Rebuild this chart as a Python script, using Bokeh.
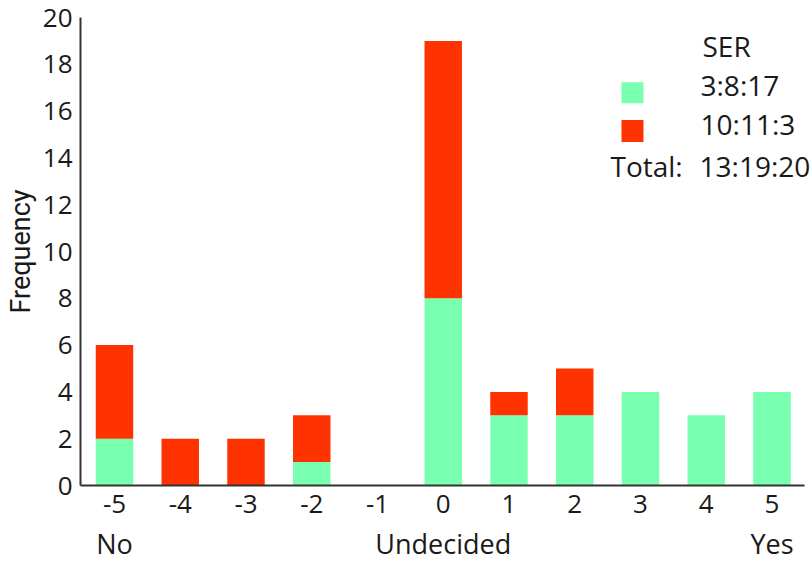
from bokeh.plotting import figure
from bokeh.models import Range1d, LinearAxis, FixedTicker, Label, BoxAnnotation
from bokeh.embed import file_html
from bokeh.resources import INLINE

# ---- data ----
scores = [-5, -4, -3, -2, -1, 0, 1, 2, 3, 4, 5]
ser_green = [2, 0, 0, 1, 0, 8, 3, 3, 4, 3, 4]
ser_red = [4, 2, 2, 2, 0, 11, 1, 2, 0, 0, 0]
y_ticks = [0, 2, 4, 6, 8, 10, 12, 14, 16, 18, 20]
group_labels = {-5: "No", 0: "Undecided", 5: "Yes"}
legend_title = "SER"
y_title = "Frequency"

GREEN = "#78FFB0"
RED = "#FF3300"
FONT = "Open Sans"
FS = "26px"
FS_LEG = "28px"
TXT = "#1a1a1a"


def split(vals):
    no = sum(v for s, v in zip(scores, vals) if s < 0)
    und = sum(v for s, v in zip(scores, vals) if s == 0)
    yes = sum(v for s, v in zip(scores, vals) if s > 0)
    return no, und, yes


g = split(ser_green)
r = split(ser_red)
t = tuple(a + b for a, b in zip(g, r))
fmt = lambda tr: ":".join(str(v) for v in tr)

W, H = 812, 564
FL, FR, FT, FB = 80, 812, 17, 487  # frame edges in pixels
UNIT = 65.75                         # pixels per score step
X0 = -5.517
X1 = X0 + (FR - FL) / UNIT
X_AXIS_END = X0 + (804 - FL) / UNIT
Y0, Y1 = 0, 20

p = figure(width=W, height=H, output_backend="svg", toolbar_location=None,
           x_range=Range1d(X0, X1), y_range=Range1d(Y0, Y1),
           min_border_left=FL, min_border_right=W - FR, min_border_top=FT,
           min_border_bottom=H - FB)
p.outline_line_color = None
p.grid.visible = False
p.background_fill_color = "white"

src = dict(score=scores, green=ser_green, red=ser_red)
p.vbar_stack(["green", "red"], x="score", width=0.57, color=[GREEN, RED],
             line_color=None, source=src)


def style_axis(ax, fs=FS):
    ax.major_tick_line_color = None
    ax.minor_tick_line_color = None
    ax.major_tick_out = 0
    ax.major_tick_in = 0
    ax.minor_tick_out = 0
    ax.minor_tick_in = 0
    ax.major_label_text_font = FONT
    ax.major_label_text_font_size = fs
    ax.major_label_text_color = TXT


for ax in (p.xaxis[0], p.yaxis[0]):
    style_axis(ax)
    ax.axis_line_color = "#333333"
    ax.axis_line_width = 2

p.xaxis[0].ticker = FixedTicker(ticks=scores)
p.xaxis[0].bounds = (X0, X_AXIS_END)
p.xaxis[0].major_label_overrides = {s: str(s) for s in scores}
p.xaxis[0].major_label_standoff = 9
p.yaxis[0].ticker = FixedTicker(ticks=y_ticks)
p.yaxis[0].major_label_overrides = {v: str(v) for v in y_ticks}
p.yaxis[0].major_label_standoff = 8
p.yaxis[0].axis_label = y_title
p.yaxis[0].axis_label_text_font = "Roboto"
p.yaxis[0].axis_label_text_font_size = "27px"
p.yaxis[0].axis_label_text_font_style = "normal"
p.yaxis[0].axis_label_text_color = TXT
p.yaxis[0].axis_label_standoff = 3

ax2 = LinearAxis(ticker=FixedTicker(ticks=list(group_labels.keys())),
                 major_label_overrides={k: v for k, v in group_labels.items()})
style_axis(ax2, "27px")
ax2.axis_line_color = None
ax2.major_label_standoff = 9
p.add_layout(ax2, "below")


# ---- legend texts (placed by pixel position) ----
def dx(px):
    return X0 + (px - FL) / UNIT


def dy(py):
    return Y0 + (FB - py) / (FB - FT) * (Y1 - Y0)


def lab(text, px, py):
    p.add_layout(Label(x=dx(px), y=dy(py), text=text, text_font=FONT,
                       text_font_size=FS_LEG, text_color=TXT,
                       text_baseline="middle", text_align="left"))


lab(legend_title, 702, 46)
lab(fmt(g), 700, 85)
lab(fmt(r), 700, 124)
lab("Total:", 610, 166)
lab(fmt(t), 699, 166)
p.add_layout(BoxAnnotation(left=dx(621), right=dx(643), top=dy(82), bottom=dy(103),
                           fill_color=GREEN, fill_alpha=1, line_color=None))
p.add_layout(BoxAnnotation(left=dx(621), right=dx(643), top=dy(120), bottom=dy(142),
                           fill_color=RED, fill_alpha=1, line_color=None))

open("out.html", "w").write(file_html(p, INLINE))
